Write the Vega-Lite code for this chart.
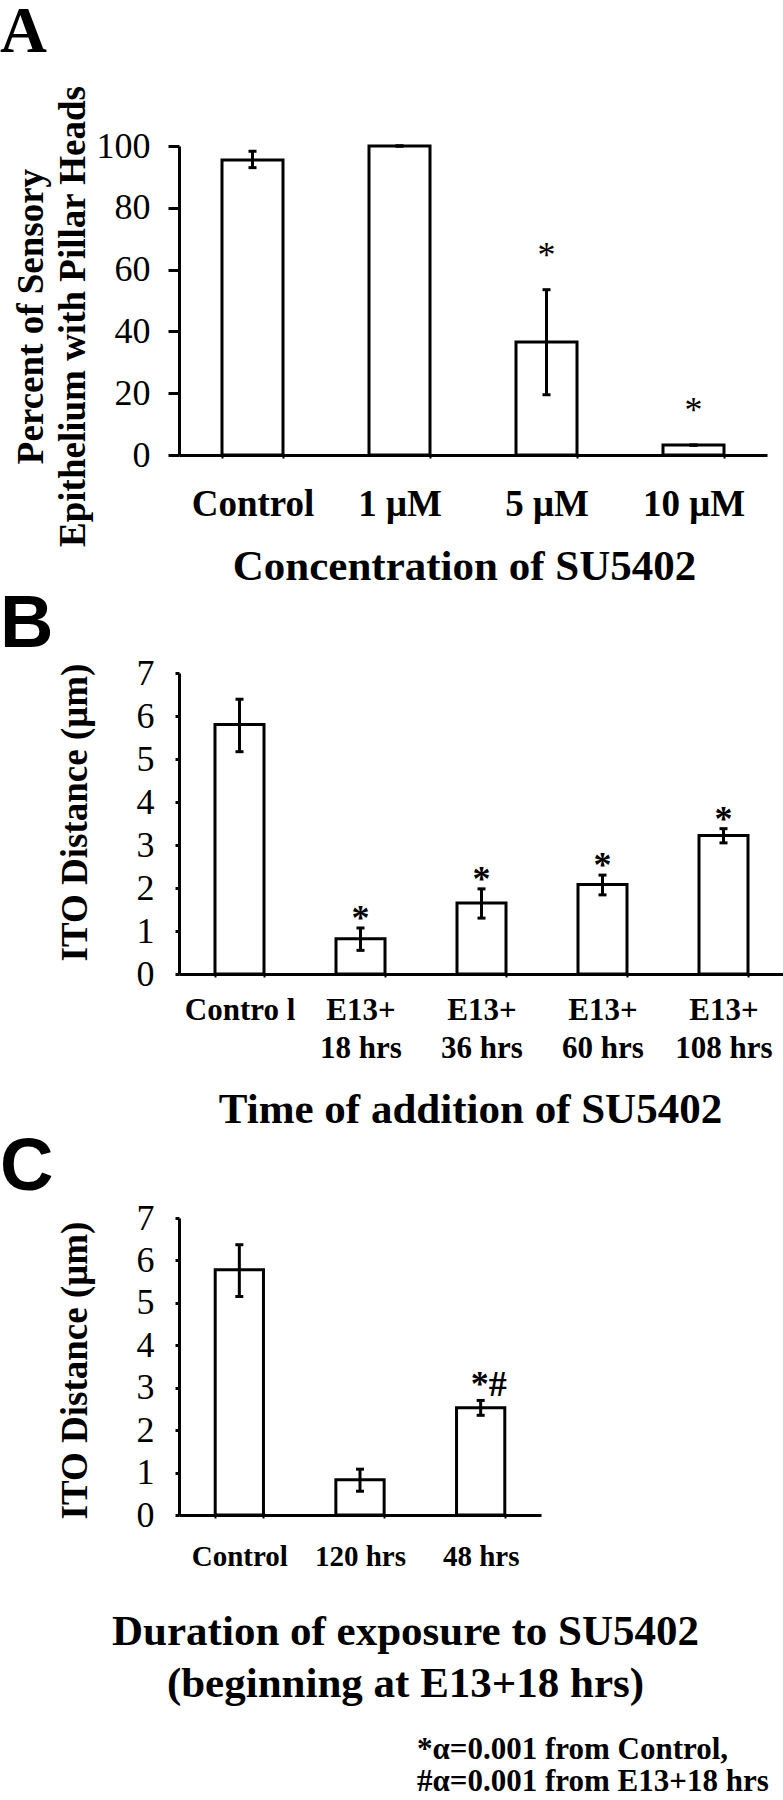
{
  "$schema": "https://vega.github.io/schema/vega-lite/v6.json",
  "padding": 0,
  "background": "white",
  "spacing": 0,
  "config": {
    "view": {"stroke": null},
    "font": "Liberation Serif",
    "axis": {"domainColor": "black", "domainWidth": 3, "tickColor": "black", "tickWidth": 3, "labelColor": "black", "titleColor": "black", "grid": false, "labelFont": "Liberation Serif", "titleFont": "Liberation Serif"},
    "title": {"color": "black"}
  },
  "title": {
    "text": ["*α=0.001 from Control,", "#α=0.001 from E13+18 hrs"],
    "orient": "bottom", "anchor": "start", "frame": "bounds",
    "font": "Liberation Serif", "fontSize": 31, "fontWeight": "bold",
    "baseline": "alphabetic", "lineHeight": 32, "dx": 417, "offset": 54
  },
  "vconcat": [
    {
      "width": 588, "height": 309,
      "title": {"text": "A", "anchor": "start", "frame": "group", "dx": -179, "font": "Liberation Serif", "fontSize": 65, "fontWeight": "bold", "baseline": "alphabetic", "offset": -32},
      "data": {"values": [
        {"c": "Control", "v": 95.5, "lo": 93, "hi": 98.3, "s": ""},
        {"c": "1 μM", "v": 100, "lo": 100, "hi": 100, "s": ""},
        {"c": "5 μM", "v": 36.6, "lo": 19.5, "hi": 53.5, "s": "*"},
        {"c": "10 μM", "v": 3.2, "lo": 3.2, "hi": 3.2, "s": "*"}
      ]},
      "encoding": {
        "x": {"field": "c", "type": "nominal", "sort": null,
          "scale": {"paddingInner": 0.585, "paddingOuter": 0.2925},
          "axis": {"title": "Concentration of SU5402", "labelAngle": 0, "tickBand": "extent", "tickSize": 3, "tickWidth": 2,
            "labelFontSize": 37, "labelFontWeight": "bold", "labelBaseline": "alphabetic", "labelPadding": 57,
            "titleFontSize": 43, "titleFontWeight": "bold", "titleBaseline": "alphabetic", "titleY": 124, "titleX": 285, "titleAlign": "center"}}
      },
      "layer": [
        {"mark": {"type": "bar", "fill": "white", "stroke": "black", "strokeWidth": 3},
         "encoding": {"y": {"field": "v", "type": "quantitative", "scale": {"domain": [0, 100], "nice": false},
           "axis": {"title": ["Percent of Sensory", "Epithelium with Pillar Heads"], "values": [0, 20, 40, 60, 80, 100], "tickSize": 11,
             "labelFontSize": 36, "labelPadding": 18,
             "titleFontSize": 37, "titleFontWeight": "bold", "titleAngle": -90, "titleAlign": "center", "titleBaseline": "alphabetic",
             "titleX": -137, "titleY": 170, "titleLineHeight": 42}}}},
        {"mark": {"type": "rule", "strokeWidth": 3, "color": "black"},
         "encoding": {"y": {"field": "lo", "type": "quantitative"}, "y2": {"field": "hi"}}},
        {"mark": {"type": "tick", "size": 8, "thickness": 3, "color": "black", "opacity": 1},
         "encoding": {"y": {"field": "lo", "type": "quantitative"}}},
        {"mark": {"type": "tick", "size": 8, "thickness": 3, "color": "black", "opacity": 1},
         "encoding": {"y": {"field": "hi", "type": "quantitative"}}},
        {"mark": {"type": "text", "font": "Liberation Serif", "fontSize": 36, "baseline": "alphabetic", "dy": -23, "color": "black"},
         "encoding": {"y": {"field": "hi", "type": "quantitative"}, "text": {"field": "s"}}}
      ]
    },
    {
      "width": 605, "height": 301,
      "title": {"text": "B", "anchor": "start", "frame": "group", "dx": -179, "font": "Liberation Sans", "fontSize": 74, "fontWeight": "bold", "baseline": "alphabetic", "offset": -66},
      "data": {"values": [
        {"c": "Contro l", "v": 5.8, "lo": 5.17, "hi": 6.39, "s": ""},
        {"c": "E13+\n18 hrs", "v": 0.82, "lo": 0.55, "hi": 1.07, "s": "*"},
        {"c": "E13+\n36 hrs", "v": 1.65, "lo": 1.3, "hi": 1.98, "s": "*"},
        {"c": "E13+\n60 hrs", "v": 2.08, "lo": 1.84, "hi": 2.3, "s": "*"},
        {"c": "E13+\n108 hrs", "v": 3.22, "lo": 3.05, "hi": 3.38, "s": "*"}
      ]},
      "encoding": {
        "x": {"field": "c", "type": "nominal", "sort": null,
          "scale": {"paddingInner": 0.595, "paddingOuter": 0.2975},
          "axis": {"title": "Time of addition of SU5402", "labelAngle": 0, "tickBand": "extent", "tickSize": 3, "tickWidth": 2,
            "labelExpr": "split(datum.label, '\\n')", "labelLineHeight": 38,
            "labelFontSize": 31, "labelFontWeight": "bold", "labelBaseline": "alphabetic", "labelPadding": 42,
            "titleFontSize": 43, "titleFontWeight": "bold", "titleBaseline": "alphabetic", "titleY": 148, "titleX": 291, "titleAlign": "center"}}
      },
      "layer": [
        {"mark": {"type": "bar", "fill": "white", "stroke": "black", "strokeWidth": 3},
         "encoding": {"y": {"field": "v", "type": "quantitative", "scale": {"domain": [0, 7], "nice": false},
           "axis": {"title": "ITO Distance (μm)", "values": [0, 1, 2, 3, 4, 5, 6, 7], "tickSize": 4,
             "labelFontSize": 36, "labelPadding": 21,
             "titleFontSize": 37, "titleFontWeight": "bold", "titleAngle": -90, "titleAlign": "center", "titleBaseline": "alphabetic",
             "titleX": -93, "titleY": 139}}}},
        {"mark": {"type": "rule", "strokeWidth": 3, "color": "black"},
         "encoding": {"y": {"field": "lo", "type": "quantitative"}, "y2": {"field": "hi"}}},
        {"mark": {"type": "tick", "size": 8, "thickness": 3, "color": "black", "opacity": 1},
         "encoding": {"y": {"field": "lo", "type": "quantitative"}}},
        {"mark": {"type": "tick", "size": 8, "thickness": 3, "color": "black", "opacity": 1},
         "encoding": {"y": {"field": "hi", "type": "quantitative"}}},
        {"mark": {"type": "text", "font": "Liberation Serif", "fontSize": 36, "fontWeight": "bold", "baseline": "alphabetic", "dy": 2, "color": "black"},
         "encoding": {"y": {"field": "hi", "type": "quantitative"}, "text": {"field": "s"}}}
      ]
    },
    {
      "width": 362, "height": 297,
      "title": {"text": "C", "anchor": "start", "frame": "group", "dx": -179, "font": "Liberation Sans", "fontSize": 74, "fontWeight": "bold", "baseline": "alphabetic", "offset": -64},
      "data": {"values": [
        {"c": "Control", "v": 5.78, "lo": 5.15, "hi": 6.37, "s": ""},
        {"c": "120 hrs", "v": 0.83, "lo": 0.56, "hi": 1.08, "s": ""},
        {"c": "48 hrs", "v": 2.53, "lo": 2.35, "hi": 2.7, "s": "*#"}
      ]},
      "encoding": {
        "x": {"field": "c", "type": "nominal", "sort": null,
          "scale": {"paddingInner": 0.6, "paddingOuter": 0.3},
          "axis": {"title": ["Duration of exposure to SU5402", "(beginning at E13+18 hrs)"], "labelAngle": 0, "tickBand": "extent", "tickSize": 3, "tickWidth": 2,
            "labelFontSize": 29, "labelFontWeight": "bold", "labelBaseline": "alphabetic", "labelPadding": 47,
            "titleFontSize": 43, "titleFontWeight": "bold", "titleBaseline": "alphabetic", "titleLineHeight": 52, "titleY": 129, "titleX": 226, "titleAlign": "center"}}
      },
      "layer": [
        {"mark": {"type": "bar", "fill": "white", "stroke": "black", "strokeWidth": 3},
         "encoding": {"y": {"field": "v", "type": "quantitative", "scale": {"domain": [0, 7], "nice": false},
           "axis": {"title": "ITO Distance (μm)", "values": [0, 1, 2, 3, 4, 5, 6, 7], "tickSize": 4,
             "labelFontSize": 36, "labelPadding": 21,
             "titleFontSize": 37, "titleFontWeight": "bold", "titleAngle": -90, "titleAlign": "center", "titleBaseline": "alphabetic",
             "titleX": -93, "titleY": 152}}}},
        {"mark": {"type": "rule", "strokeWidth": 3, "color": "black"},
         "encoding": {"y": {"field": "lo", "type": "quantitative"}, "y2": {"field": "hi"}}},
        {"mark": {"type": "tick", "size": 8, "thickness": 3, "color": "black", "opacity": 1},
         "encoding": {"y": {"field": "lo", "type": "quantitative"}}},
        {"mark": {"type": "tick", "size": 8, "thickness": 3, "color": "black", "opacity": 1},
         "encoding": {"y": {"field": "hi", "type": "quantitative"}}},
        {"mark": {"type": "text", "font": "Liberation Serif", "fontSize": 36, "fontWeight": "bold", "baseline": "alphabetic", "dy": -4, "dx": 8, "color": "black"},
         "encoding": {"y": {"field": "hi", "type": "quantitative"}, "text": {"field": "s"}}}
      ]
    }
  ]
}
